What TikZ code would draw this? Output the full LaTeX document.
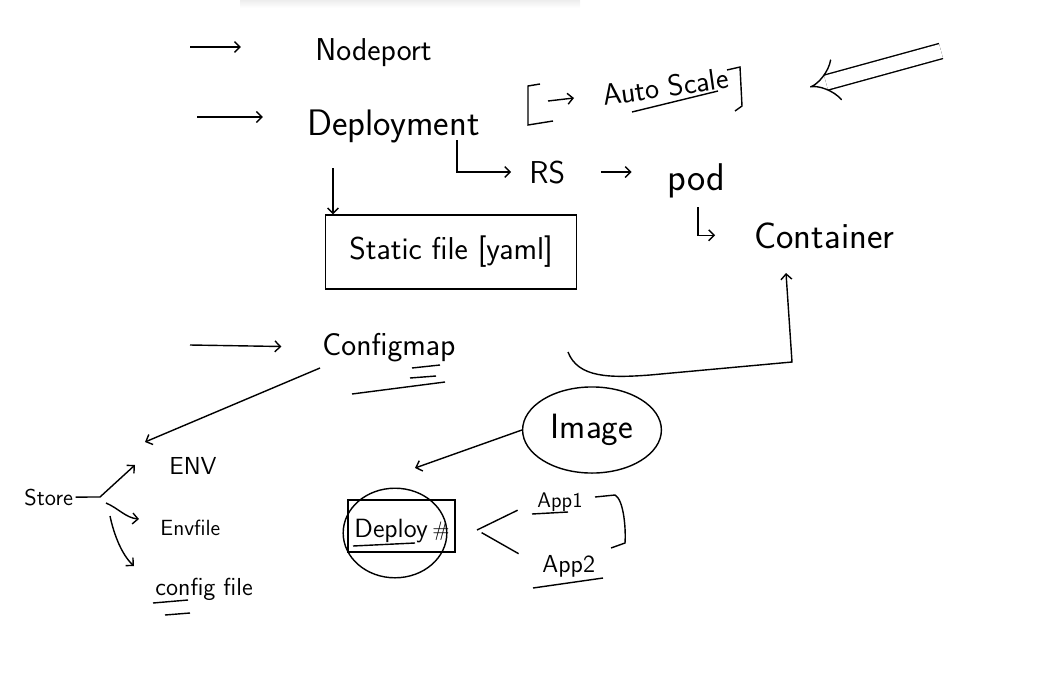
\documentclass[tikz,border=0pt]{standalone}
\usetikzlibrary{arrows.meta,shapes.geometric}
\begin{document}
\begin{tikzpicture}[x=0.02cm, y=-0.02cm, thick, >=Straight Barb,
    hand/.style={inner sep=1pt, font=\sffamily\fontsize{#1}{#1}\selectfont},
    ring/.style={draw, ellipse, inner sep=0pt}]

  % Coordinates are pixels of the 1041 x 673 sheet (y grows downwards)
  \useasboundingbox (0,0) rectangle (1041,673);

  % --- faint shadow on the top edge ---
  \shade[top color=gray!14, bottom color=white] (240,0) rectangle (580,8);

  % === Objects listed on the left ===
  \node[hand=18, anchor=base west] (nodeport)   at (313,60)  {Nodeport};
  \node[hand=21, anchor=base west] (deployment) at (305,135) {Deployment};
  \node[hand=18, anchor=base west] (configmap)  at (320,355) {Configmap};

  \coordinate (np-from) at (190,47);
  \coordinate (dp-from) at (197,117);
  \coordinate (cm-from) at (190,345);
  \draw[->, shorten >=41pt] (np-from) -- (np-from -| nodeport.west);
  \draw[->, shorten >=24pt] (dp-from) -- (dp-from -| deployment.west);
  \draw[->, shorten >=22pt] (cm-from) -- (configmap.west);

  % underlines below Configmap
  \draw (412,368) -- (440,365);
  \draw (410,378) -- (436,376);
  \draw (352,394) -- (445,382);

  % --- Deployment [-> Auto Scale] ---
  \draw (540,84) -- (528,86) -- (528,125) -- (553,121);
  \draw[->] (548,101) -- (574,98);
  \node[hand=17, rotate=8, anchor=base] (autoscale) at (667,97) {Auto Scale};
  \draw (632,112) -- (718,91);
  \draw (727,70) -- (740,67) -- (742,106) -- (735,111);

  % double arrow pointing at Auto Scale
  \coordinate (big-tail) at (941,51);
  \coordinate (big-head) at (810,87);
  \draw[double, double distance=8pt, -{Implies}] (big-tail) -- (big-head);

  % --- Deployment -> RS -> pod -> Container ---
  \node[hand=18, anchor=base west] (rs)        at (527,183) {RS};
  \node[hand=22, anchor=base west] (pod)       at (665,190) {pod};
  \node[hand=21, anchor=base west] (container) at (752,248) {Container};

  \coordinate (rs-from) at (457,140);
  \coordinate (pod-hook) at (698,207);
  \draw[->, shorten >=9pt] (rs-from) |- (rs.west);
  \draw[->, shorten <=19pt, shorten >=19pt] (rs.east) -- (rs.east -| pod.west);
  \draw[->, shorten >=21pt] (pod-hook) |- (container.west);

  % --- Deployment -> static file ---
  \node[draw, hand=18, minimum width=143pt, minimum height=42pt]
    (yaml) at (451,252) {Static file [yaml]};
  \coordinate (dp-down) at (333,168);
  \draw[->] (dp-down) -- (dp-down |- yaml.north);

  % --- Configmap -> Container ---
  \coordinate (cm-hook) at (568,352);
  \coordinate (ct-in) at (786,273);
  \draw[->] (cm-hook) .. controls (578,378) and (610,378) .. (650,375)
    -- (792,362) -- (ct-in);

  % === Store: ENV / Envfile / config file ===
  \node[hand=13, anchor=base west] (store)   at (22,505)  {Store};
  \node[hand=14, anchor=base west] (env)     at (167,474) {ENV};
  \node[hand=12.5, anchor=base west] (envfile) at (158,535) {Envfile};
  \node[hand=14, anchor=base west] (cfgfile) at (153,595) {config file};

  \coordinate (cm-tail) at (320,368);
  \coordinate (env-in) at (145,442);
  \draw[->] (cm-tail) -- (env-in);

  \coordinate (store-fork) at (100,497);
  \coordinate (env-tip) at (135,465);
  \coordinate (envfile-tip) at (139,519);
  \coordinate (cfgfile-tip) at (134,566);
  \draw (store.east) -- (store-fork);
  \draw[->] (store-fork) -- (env-tip);
  \draw[->] (106,503) .. controls (118,508) and (126,518) .. (envfile-tip);
  \draw[->] (110,516) .. controls (114,535) and (122,555) .. (cfgfile-tip);

  % double underline below "config"
  \draw (153,603) -- (188,600);
  \draw (165,615) -- (190,613);

  % === Image -> Deploy -> App1 / App2 ===
  \node[ring, hand=20, minimum width=79pt, minimum height=49pt]
    (image) at (592,430) {Image};
  \node[hand=15, anchor=base west] (deploy) at (352,537) {Deploy};
  \node[ring, minimum width=59pt, minimum height=51pt] (deploy-ring) at (395,533) {};
  \draw (348,500) rectangle (455,552);
  \draw (353,546) -- (415,543);
  \node[hand=12] (hash) at (441,531) {\#};

  \coordinate (deploy-in) at (415,468);
  \draw[->] (image.west) -- (deploy-in);

  \node[hand=12, anchor=base west] (app1) at (535,507) {App1};
  \node[hand=14, anchor=base west] (app2) at (540,572) {App2};
  \draw (532,514) -- (568,512);
  \draw (533,588) -- (603,578);
  \draw (595,497) -- (615,495) .. controls (624,500) and (626,530) .. (625,543)
    -- (611,548);

  \coordinate (fork) at (477,530);
  \draw[shorten >=11pt] (fork) -- (app1.west);
  \draw[shorten <=3pt, shorten >=14pt] (fork) -- (app2.west);

\end{tikzpicture}
\end{document}
